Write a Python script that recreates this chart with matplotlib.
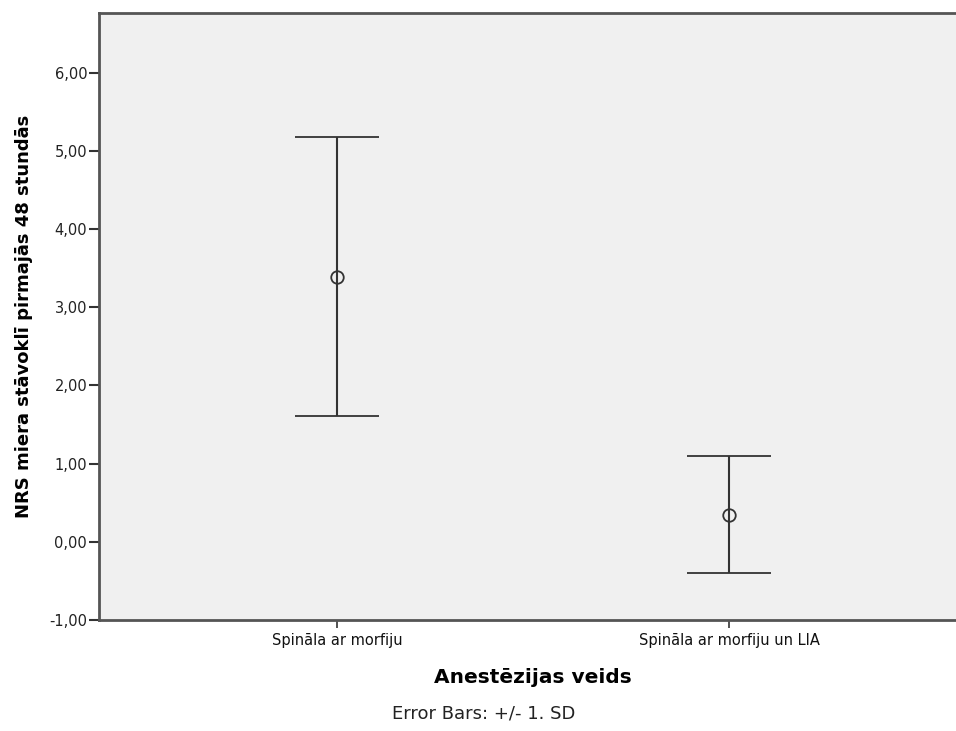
import matplotlib
matplotlib.use("Agg")
import matplotlib.pyplot as plt

# dati (nolasīti no attēla)
groups = ["Spināla ar morfiju", "Spināla ar morfiju un LIA"]
means = [3.39, 0.346]
sds = [1.785, 0.747]
yticks = [-1, 0, 1, 2, 3, 4, 5, 6]
ytick_labels = ["-1,00", "0,00", "1,00", "2,00", "3,00", "4,00", "5,00", "6,00"]

fig = plt.figure(figsize=(9.56, 7.31), dpi=100)
# labā mala ir ārpus attēla, kā oriģinālā
ax = fig.add_axes([99 / 956, 1 - 620 / 731, 868 / 956, 607 / 731])
ax.set_facecolor("#f0f0f0")

x = list(range(len(groups)))
ax.errorbar(x, means, yerr=sds, fmt="o", mfc="none", mec="#333333", ms=9,
            mew=1.3, ecolor="#333333", elinewidth=1.5, capsize=30, capthick=1.5)

ax.set_xlim(-0.607, 1.607)
ax.set_ylim(-1, 6.763)
ax.set_xticks(x)
ax.set_xticklabels(groups, fontsize=10.5, color="#111111")
ax.set_yticks(yticks)
ax.set_yticklabels(ytick_labels, fontsize=10.5, color="#222222")

for s in ["left", "bottom", "top"]:
    ax.spines[s].set_color("#555555")
    ax.spines[s].set_linewidth(2)
ax.spines["right"].set_visible(False)
ax.tick_params(axis="y", length=7.5, width=1.5, color="#333333", pad=1)
ax.tick_params(axis="x", length=6, width=1.2, color="#333333", pad=3)

ax.set_xlabel("Anestēzijas veids", fontsize=14.5, fontweight="bold")
ax.xaxis.set_label_coords(0.5, -0.079)
ax.set_ylabel("NRS miera stāvoklī pirmajās 48 stundās", fontsize=13, fontweight="bold")
ax.yaxis.set_label_coords(-0.0765, 0.5)

fig.text(484 / 956, 1 - 714 / 731, "Error Bars: +/- 1. SD", ha="center", va="center",
         fontsize=13, color="#222222")

fig.savefig("out.png", dpi=100)
